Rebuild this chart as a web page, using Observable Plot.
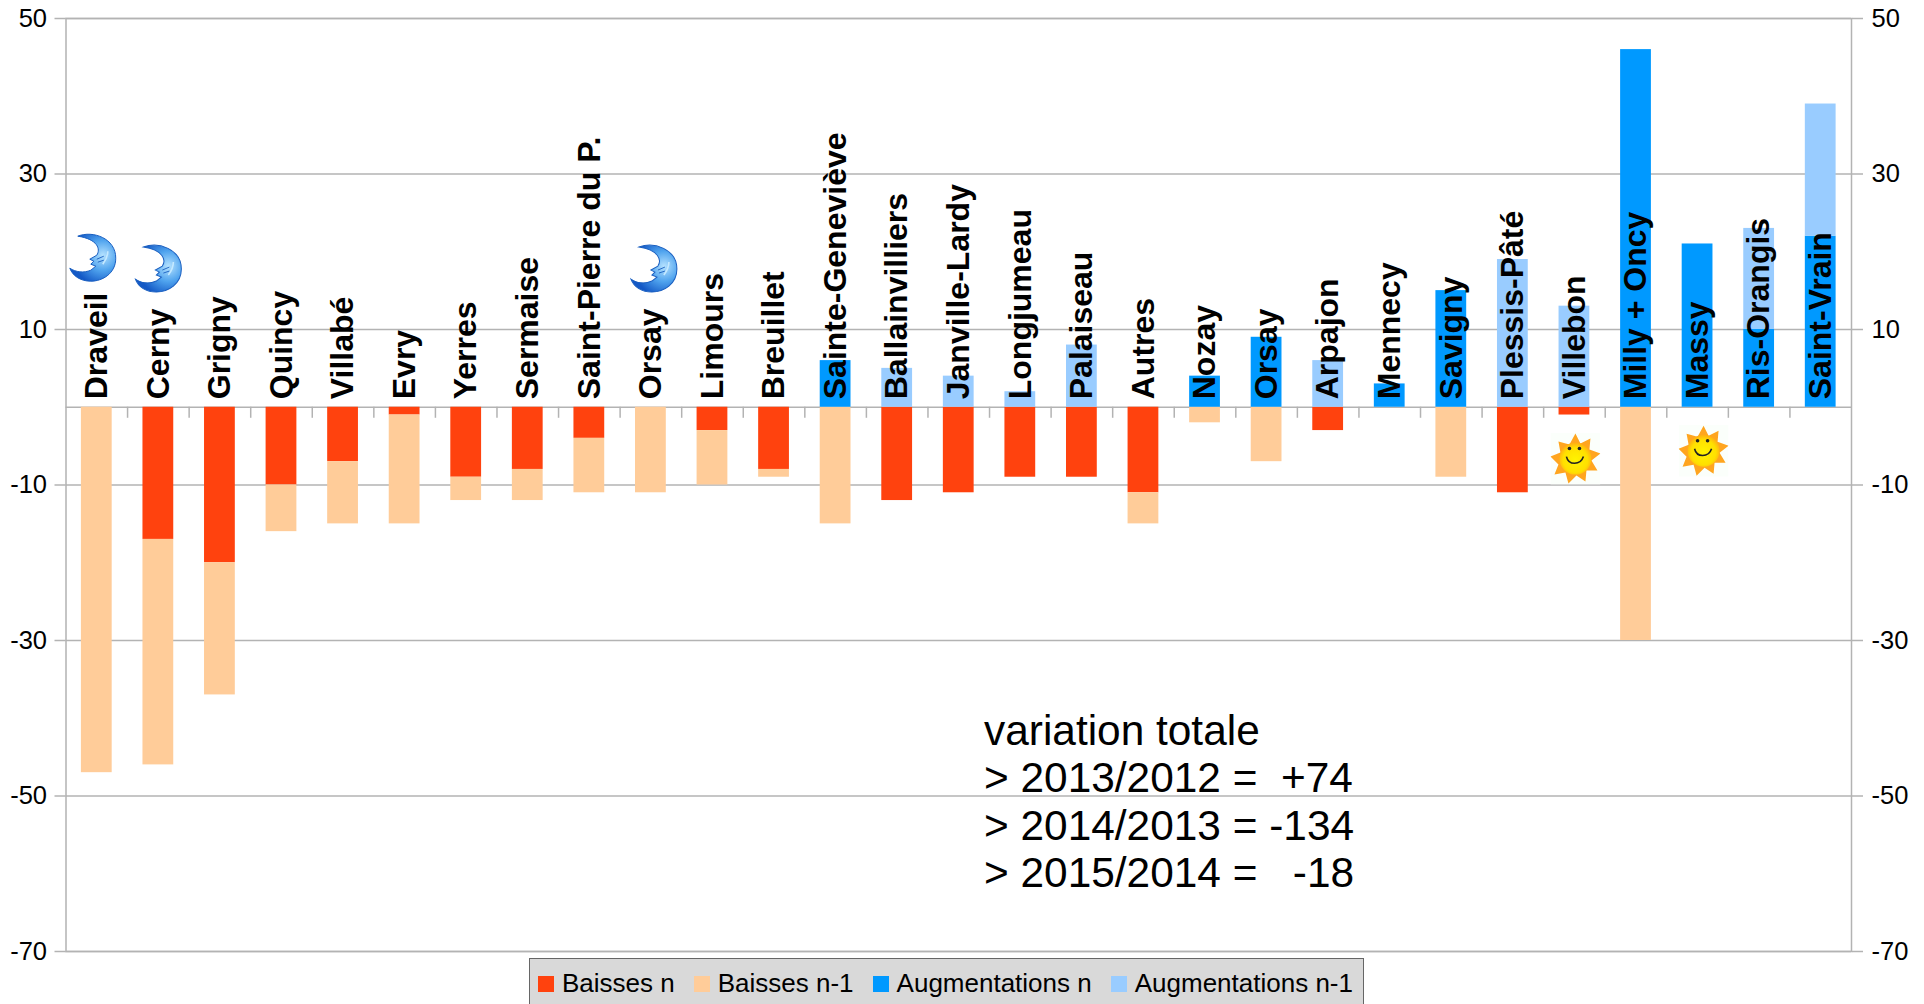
<!DOCTYPE html>
<html lang="fr">
<head>
<meta charset="utf-8">
<script src="https://cdn.jsdelivr.net/npm/d3@7"></script>
<script src="https://cdn.jsdelivr.net/npm/@observablehq/plot@0.6"></script>
<style>
html,body{margin:0;padding:0;background:#fff;overflow:hidden;height:1004px}
#chart svg{display:block}
#legend{position:relative;box-sizing:border-box;margin-top:-7px;margin-left:529px;width:835px;height:60px;background:#d9d9d9;border:1px solid #666;font:26px "Liberation Sans",Arial,sans-serif;color:#000;display:flex;align-items:flex-start;padding-top:9px;padding-left:8px;white-space:nowrap}
#legend span.item{display:inline-flex;align-items:center;margin-right:19px}
#legend i{display:inline-block;width:16px;height:16px;margin-right:8px}
</style>
</head>
<body>
<div id="chart"></div>
<div id="legend"></div>
<script>
const communes = ["Draveil","Cerny","Grigny","Quincy","Villabé","Evry","Yerres","Sermaise","Saint-Pierre du P.","Orsay","Limours","Breuillet","Sainte-Geneviève","Ballainvilliers","Janville-Lardy","Longjumeau","Palaiseau","Autres","Nozay","Orsay","Arpajon","Mennecy","Savigny","Plessis-Pâté","Villebon","Milly + Oncy","Massy","Ris-Orangis","Saint-Vrain"];
const baissesN        = [0,-17,-20,-10,-7,-1,-9,-8,-4,0,-3,-8,0,-12,-11,-9,-9,-11,0,0,-3,0,0,-11,-1,0,0,0,0];
const baissesN1       = [-47,-29,-17,-6,-8,-14,-3,-4,-7,-11,-7,-1,-15,0,0,0,0,-4,-2,-7,0,0,-9,0,0,-30,0,0,0];
const augmentationsN  = [0,0,0,0,0,0,0,0,0,0,0,0,6,0,0,0,0,0,4,9,0,3,15,0,0,46,21,10,22];
const augmentationsN1 = [0,0,0,0,0,0,0,0,0,0,0,0,0,5,4,2,8,0,0,0,6,0,0,19,13,0,0,13,17];
const seriesNames = ["Baisses n","Baisses n-1","Augmentations n","Augmentations n-1"];
const seriesColors = ["#ff420e","#ffcc99","#0099ff","#99ccff"];
const seriesValues = [baissesN,baissesN1,augmentationsN,augmentationsN1];
const yTicks = [50,30,10,-10,-30,-50,-70];
const noteText = "variation totale\n> 2013/2012 =  +74\n> 2014/2013 = -134\n> 2015/2014 =   -18";
const moons = [{i:0,v:19.3,shift:-4},{i:1,v:17.9,shift:0},{i:9,v:17.9,shift:3}];
const suns = [{i:24,v:-6.6,shift:1},{i:26,v:-5.6,shift:6}];

const grey = "#b3b3b3";
const W = 1924, H = 965, mL = 65.5, mR = 73, mT = 18, mB = 14;
const step = (W - mL - mR) / communes.length;
const idx = d3.range(communes.length);
const rows = seriesNames.flatMap((s,k) => seriesValues[k].map((value,i) => ({i,series:s,value})));

const moonSrc = "data:image/svg+xml," + encodeURIComponent(`<svg xmlns="http://www.w3.org/2000/svg" viewBox="0 0 48 50"><defs><radialGradient id="g" cx="0.72" cy="0.45" r="0.65"><stop offset="0" stop-color="#b5e2ff"/><stop offset="0.5" stop-color="#4fa3ee"/><stop offset="1" stop-color="#1459c6"/></radialGradient></defs><path d="M9 4C24-2 47 6 47 26C47 41 34 49 22 49C12 49 4 44 1 36C7 40 15 41 22 38L27 34L22 32L25 29L21 27L28 23C32 17 29 7 9 4Z" fill="url(#g)" stroke="#1a5fc0" stroke-width="1"/><path d="M34 32C37 28 39 24 39 19" stroke="#c5e9ff" stroke-width="1.6" fill="none"/><path d="M28 27L35 24M29 30L35 28" stroke="#1a5fc0" stroke-width="0.9" fill="none"/></svg>`);
const sunSrc = "data:image/svg+xml," + encodeURIComponent(`<svg xmlns="http://www.w3.org/2000/svg" viewBox="0 0 50 52"><defs><radialGradient id="s" cx="0.5" cy="0.55" r="0.55"><stop offset="0" stop-color="#fff400"/><stop offset="0.7" stop-color="#ffe000"/><stop offset="1" stop-color="#ffab14"/></radialGradient></defs><rect width="50" height="52" fill="#fbfffb"/><path d="M25 1L30 11L40 6L39 17L50 21L41 28L47 38L36 38L35 49L26 43L18 51L15 40L4 42L8 32L0 24L10 20L8 9L19 12Z" fill="#ffa51f"/><circle cx="25" cy="26" r="16" fill="url(#s)"/><circle cx="19" cy="16" r="1.8" fill="#222"/><circle cx="29" cy="16" r="1.8" fill="#222"/><path d="M16 24C18 33 30 33 33 24" stroke="#222" stroke-width="1.6" fill="none"/></svg>`);

const plot = Plot.plot({
  width: W, height: H,
  marginLeft: mL, marginRight: mR, marginTop: mT, marginBottom: mB,
  style: {fontFamily: '"Liberation Sans", Arial, sans-serif', color: "#000", background: "#fff"},
  x: {type: "band", domain: idx, paddingInner: 0.5, paddingOuter: 0.25, round: false, axis: null},
  y: {domain: [-70,50], label: null},
  color: {domain: seriesNames, range: seriesColors},
  marks: [
    Plot.ruleY([...yTicks,0], {stroke: grey, strokeWidth: 1.5}),
    Plot.frame({stroke: grey, strokeWidth: 1.5}),
    Plot.ruleX(idx.slice(0,-1), {x: d => d, y1: 0, y2: -1.42, dx: step/2, stroke: grey, strokeWidth: 1.5}),
    Plot.axisY({anchor:"left", ticks: yTicks, tickSize: 11, tickPadding: 8, fontSize: 25.5, stroke: grey, strokeWidth: 1.5, label: null, tickFormat: d => String(d)}),
    Plot.axisY({anchor:"right", ticks: yTicks, tickSize: 11, tickPadding: 9, fontSize: 25.5, stroke: grey, strokeWidth: 1.5, label: null, tickFormat: d => String(d)}),
    Plot.barY(rows, {x: "i", y: "value", z: "series", fill: "series", order: seriesNames}),
    ...moons.map(m => Plot.image([m], {x: "i", y: "v", src: () => moonSrc, width: 48, height: 50, dx: m.shift})),
    ...suns.map(s => Plot.image([s], {x: "i", y: "v", src: () => sunSrc, width: 50, height: 52, dx: s.shift})),
    Plot.text(idx, {x: d => d, y: () => 0, text: d => communes[d], rotate: -90, textAnchor: "start", dy: -8, fontSize: 32, fontWeight: "bold", fill: "#000"}),
    Plot.text([noteText], {frameAnchor: "top-left", text: d => d, dx: 918, dy: 692.5, lineAnchor: "top", lineHeight: 1.12, fontSize: 42.4, fill: "#000", textAnchor: "start"})
  ]
});
document.getElementById("chart").appendChild(plot);

const lg = d3.select("#legend");
seriesNames.forEach((s,k) => {
  const it = lg.append("span").attr("class","item");
  it.append("i").style("background", seriesColors[k]);
  it.append("span").text(s);
});
</script>
</body>
</html>
